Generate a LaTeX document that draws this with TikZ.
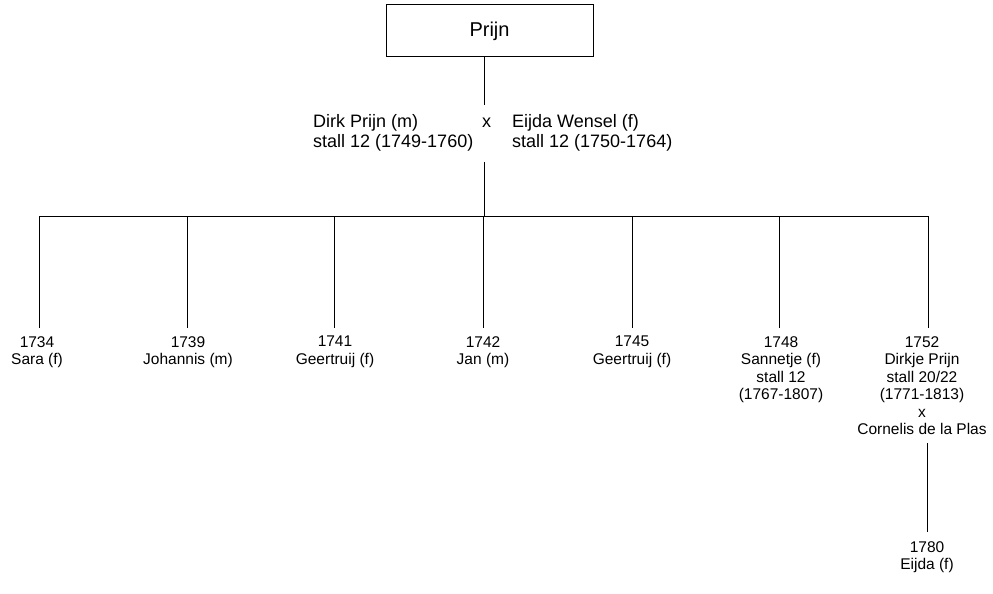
\documentclass[tikz,border=0pt]{standalone}
\usepackage{fontspec}
\setmainfont{Liberation Sans}
\begin{document}
\begin{tikzpicture}[x=1pt,y=-1pt,
  line/.style={draw=black,line width=1pt},
  child/.style={anchor=north,inner sep=0pt,align=center,
    font=\fontsize{15.5}{17.5}\selectfont},
  parent/.style={anchor=north west,inner sep=0pt,align=left,
    font=\fontsize{18}{20}\selectfont},
  familybox/.style={draw=black,line width=1pt,minimum width=207pt,
    minimum height=52pt,inner sep=0pt,font=\fontsize{20}{24}\selectfont}]
\useasboundingbox (0,0) rectangle (993,594);

% family name
\node[familybox] (fam) at (489.5,31) {Prijn};

% the couple
\node[parent] (dirk) at (313,114) {Dirk Prijn (m)\\stall 12 (1749-1760)};
\node[parent] (eijda) at (512,114) {Eijda Wensel (f)\\stall 12 (1750-1764)};
\node[anchor=base,inner sep=0pt,font=\fontsize{18}{20}\selectfont] (cross) at (486.7,127) {x};

\coordinate (up) at (484,105);
\coordinate (down) at (484,162);
\coordinate (bar) at (484,216);
\draw[line] (fam.south -| up) -- (up);
\draw[line] (down) -- (bar);

% children
\coordinate (c1) at (39,328);
\coordinate (c2) at (187,328);
\coordinate (c3) at (334.5,328);
\coordinate (c4) at (483.5,328);
\coordinate (c5) at (632,328);
\coordinate (c6) at (779,328);
\coordinate (c7) at (928,328);

\draw[line] (c1 |- bar) -- (c7 |- bar);
\foreach \c in {c1,c2,c3,c4,c5,c6,c7}
  \draw[line] (\c |- bar) -- (\c);

\node[child] (sara) at (37,336) {1734\\Sara (f)};
\node[child] (johannis) at (188,336) {1739\\Johannis (m)};
\node[child] (geertruij1) at (335,336) {1741\\Geertruij (f)};
\node[child] (jan) at (483,336) {1742\\Jan (m)};
\node[child] (geertruij2) at (632,336) {1745\\Geertruij (f)};
\node[child] (sannetje) at (781,336) {1748\\Sannetje (f)\\stall 12\\(1767-1807)};
\node[child] (dirkje) at (922,336) {1752\\Dirkje Prijn\\stall 20/22\\(1771-1813)\\x\\Cornelis de la Plas};

% grandchild
\coordinate (g1) at (927,443);
\coordinate (g2) at (927,532);
\draw[line] (g1) -- (g2);
\node[child] (eijda2) at (927,541) {1780\\Eijda (f)};
\end{tikzpicture}
\end{document}
